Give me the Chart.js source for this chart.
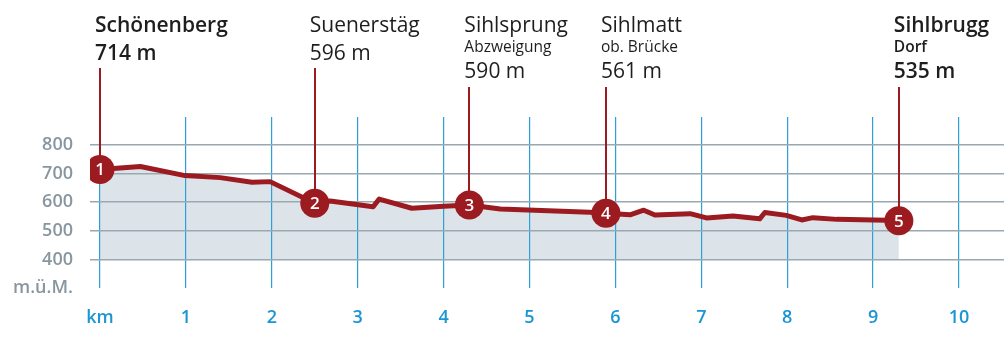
<!DOCTYPE html>
<html>
<head>
<meta charset="utf-8">
<script src="https://cdn.jsdelivr.net/npm/chart.js@4"></script>
<style>
  html, body { margin: 0; padding: 0; background: #fff; overflow: hidden; }
  #c { display: block; }
</style>
</head>
<body>
<canvas id="c" width="1004" height="356"></canvas>
<script>
// ---- data ----
const profileKm   = [0, 0.47, 0.99, 1.40, 1.77, 1.98, 2.50, 2.68, 3.18, 3.25, 3.63, 4.00, 4.30, 4.66, 5.78, 5.89, 6.17, 6.33, 6.46, 6.87, 7.06, 7.37, 7.68, 7.74, 7.99, 8.17, 8.30, 8.58, 9.16, 9.30];
const profileElev = [714, 725, 693, 686, 670, 672, 596, 604, 584, 611, 579, 586, 590, 576, 564, 561, 556, 572, 555, 560, 545, 552, 542, 564, 554, 538, 546, 540, 537, 535];

const stationNumbers = ['1', '2', '3', '4', '5'];
const stationNames   = ['Schönenberg', 'Suenerstäg', 'Sihlsprung', 'Sihlmatt', 'Sihlbrugg'];
const stationSubs    = ['', '', 'Abzweigung', 'ob. Brücke', 'Dorf'];
const stationKm      = [0, 2.50, 4.30, 5.89, 9.30];
const stationElev    = [714, 596, 590, 561, 535];
const stationBold    = [true, false, false, false, true];

const yTicks = [300, 400, 500, 600, 700, 800];
const yUnitLabel = 'm.ü.M.';
const xTicks = [0, 1, 2, 3, 4, 5, 6, 7, 8, 9, 10];
const xUnitLabel = 'km';

// ---- styles ----
const RED = '#9b1b21';
const FONT = '"Open Sans", "Noto Sans", sans-serif';

const labelPlugin = {
  id: 'stationLabels',
  beforeDatasetsDraw(chart) {
    const ctx = chart.ctx;
    const xs = chart.scales.x, ys = chart.scales.y;
    ctx.save();
    ctx.strokeStyle = RED;
    ctx.lineWidth = 2;
    stationKm.forEach((km, i) => {
      const px = Math.round(xs.getPixelForValue(km));
      const py = ys.getPixelForValue(stationElev[i]);
      const top = stationSubs[i] ? 87 : 68;
      ctx.beginPath();
      ctx.moveTo(px, top);
      ctx.lineTo(px, py);
      ctx.stroke();
    });
    ctx.restore();
  },
  afterDatasetsDraw(chart) {
    const ctx = chart.ctx;
    const xs = chart.scales.x, ys = chart.scales.y;
    ctx.save();
    ctx.fillStyle = '#ffffff';
    ctx.textAlign = 'center';
    ctx.textBaseline = 'middle';
    ctx.font = '600 17px ' + FONT;
    stationKm.forEach((km, i) => {
      const px = xs.getPixelForValue(km);
      const py = ys.getPixelForValue(stationElev[i]);
      ctx.fillText(stationNumbers[i], px, py + 1);
    });
    ctx.textAlign = 'left';
    ctx.textBaseline = 'alphabetic';
    ctx.fillStyle = '#1e1e1e';
    stationKm.forEach((km, i) => {
      const lx = xs.getPixelForValue(km) - 5;
      const w = stationBold[i] ? '600 ' : '400 ';
      ctx.font = w + '21px ' + FONT;
      ctx.fillText(stationNames[i], lx, 32);
      if (stationSubs[i]) {
        ctx.font = (stationBold[i] ? '600 ' : '400 ') + '15.5px ' + FONT;
        ctx.fillText(stationSubs[i], lx, 52);
        ctx.font = w + '21px ' + FONT;
        ctx.fillText(stationElev[i] + ' m', lx, 78);
      } else {
        ctx.fillText(stationElev[i] + ' m', lx, 60);
      }
    });
    ctx.restore();
  }
};

const profileData = profileKm.map((k, i) => ({ x: k, y: profileElev[i] }));
const stationData = stationKm.map((k, i) => ({ x: k, y: stationElev[i] }));

new Chart(document.getElementById('c'), {
  type: 'line',
  data: {
    datasets: [
      {
        data: profileData,
        borderColor: RED,
        borderWidth: 5,
        borderJoinStyle: 'round',
        borderCapStyle: 'round',
        backgroundColor: '#dde4e9',
        fill: { value: 400 },
        pointRadius: 0,
        tension: 0,
        order: 2
      },
      {
        data: stationData,
        showLine: false,
        pointRadius: 14.5,
        pointHoverRadius: 14.5,
        pointBackgroundColor: RED,
        pointBorderWidth: 0,
        order: 1
      }
    ]
  },
  options: {
    responsive: false,
    maintainAspectRatio: false,
    devicePixelRatio: 1,
    animation: false,
    events: [],
    layout: { autoPadding: false, padding: { top: 117, left: 0, right: 0, bottom: 0 } },
    plugins: {
      legend: { display: false },
      tooltip: { enabled: false },
      filler: { drawTime: 'beforeDraw' }
    },
    scales: {
      x: {
        type: 'linear',
        min: -0.1164,
        max: 10.524,
        afterBuildTicks: (s) => { s.ticks = xTicks.map(v => ({ value: v })); },
        afterFit: (s) => { s.height = 68; s.paddingLeft = 0; s.paddingRight = 0; },
        border: { display: false },
        grid: { color: '#2ba0d9', lineWidth: 1.2, drawTicks: false },
        ticks: {
          padding: 19,
          color: '#1b95d3',
          font: { family: FONT, size: 18, weight: '600' },
          maxRotation: 0,
          autoSkip: false,
          callback: (v) => v === 0 ? xUnitLabel : String(v)
        }
      },
      y: {
        type: 'linear',
        min: 300,
        max: 898,
        afterBuildTicks: (s) => { s.ticks = yTicks.map(v => ({ value: v })); },
        afterFit: (s) => { s.width = 90; s.paddingTop = 0; s.paddingBottom = 0; },
        border: { display: false },
        grid: {
          color: (c) => (c.tick && c.tick.value === 300) ? 'rgba(0,0,0,0)' : '#9aa8b1',
          lineWidth: 1.5,
          drawTicks: false
        },
        ticks: {
          padding: 17,
          color: '#8896a0',
          font: { family: FONT, size: 18, weight: '600' },
          callback: (v) => v === 300 ? yUnitLabel : String(v)
        }
      }
    }
  },
  plugins: [labelPlugin]
});
</script>
</body>
</html>
